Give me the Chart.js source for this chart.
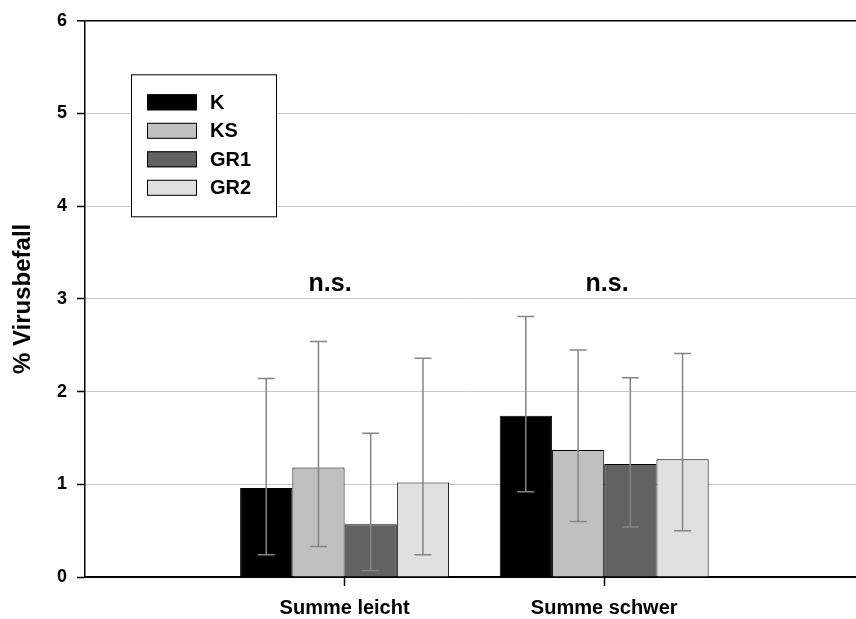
<!DOCTYPE html>
<html>
<head>
<meta charset="utf-8">
<script src="https://cdn.jsdelivr.net/npm/chart.js@4/dist/chart.umd.min.js"></script>
<style>
  body { margin: 0; background: #fff; }
  #wrap { width: 856px; height: 619px; position: relative; }
</style>
</head>
<body>
<div id="wrap"><canvas id="chart"></canvas></div>
<script>
// category positions on the x axis and their labels
const catPos = [1, 2];
const catLabels = ["Summe leicht", "Summe schwer"];

const seriesNames = ["K", "KS", "GR1", "GR2"];
const seriesColors = ["#000000", "#c0c0c0", "#626262", "#e0e0e0"];

// mean % Virusbefall per series, [leicht, schwer]
const valK = [0.96, 1.74];
const valKS = [1.18, 1.37];
const valGR1 = [0.57, 1.22];
const valGR2 = [1.02, 1.27];

// error bar ends (lower / upper)
const lowK = [0.24, 0.92];
const highK = [2.14, 2.81];
const lowKS = [0.33, 0.60];
const highKS = [2.54, 2.45];
const lowGR1 = [0.07, 0.54];
const highGR1 = [1.55, 2.15];
const lowGR2 = [0.24, 0.50];
const highGR2 = [2.36, 2.41];

// "n.s." annotations
const nsX = [0.944, 2.011];
const nsY = [3.09, 3.09];

const yTicks = [0, 1, 2, 3, 4, 5, 6];

const values = [valK, valKS, valGR1, valGR2];
const lows = [lowK, lowKS, lowGR1, lowGR2];
const highs = [highK, highKS, highGR1, highGR2];

const FONT = "'Liberation Sans', Arial, Helvetica, sans-serif";

const datasets = seriesNames.map((name, i) => ({
  label: name,
  data: catPos.map((x, j) => ({ x: x, y: values[i][j] })),
  backgroundColor: seriesColors[i],
  borderColor: "#000",
  borderWidth: 1,
  borderSkipped: "start",
}));

// error bars drawn over the bars
const errorBars = {
  id: "errorBars",
  afterDatasetsDraw(chart) {
    const { ctx } = chart;
    const yScale = chart.scales.y;
    ctx.save();
    ctx.strokeStyle = "#858585";
    ctx.lineWidth = 1.5;
    chart.data.datasets.forEach((ds, i) => {
      const meta = chart.getDatasetMeta(i);
      meta.data.forEach((bar, j) => {
        const x = bar.x;
        const y1 = yScale.getPixelForValue(lows[i][j]);
        const y2 = yScale.getPixelForValue(highs[i][j]);
        ctx.beginPath();
        ctx.moveTo(x, y1);
        ctx.lineTo(x, y2);
        ctx.moveTo(x - 8.5, y1);
        ctx.lineTo(x + 8.5, y1);
        ctx.moveTo(x - 8.5, y2);
        ctx.lineTo(x + 8.5, y2);
        ctx.stroke();
      });
    });
    ctx.restore();
  },
};

// significance labels + legend box inside the plot
const extras = {
  id: "extras",
  afterDraw(chart) {
    const { ctx, chartArea } = chart;
    const xs = chart.scales.x;
    const ys = chart.scales.y;
    ctx.save();
    ctx.fillStyle = "#000";
    ctx.font = "bold 25px " + FONT;
    ctx.textAlign = "center";
    ctx.textBaseline = "alphabetic";
    nsX.forEach((v, i) => {
      ctx.fillText("n.s.", xs.getPixelForValue(v), ys.getPixelForValue(nsY[i]));
    });

    // legend
    const bx = chartArea.left + 46;
    const by = chartArea.top + 53.5;
    ctx.fillStyle = "#fff";
    ctx.fillRect(bx, by, 145, 142);
    ctx.strokeStyle = "#000";
    ctx.lineWidth = 1;
    ctx.strokeRect(bx + 0.5, by + 0.5, 145, 142);
    ctx.font = "bold 20px " + FONT;
    ctx.textAlign = "left";
    ctx.textBaseline = "middle";
    chart.data.datasets.forEach((ds, i) => {
      const ry = by + 20 + i * 28.5;
      ctx.fillStyle = ds.backgroundColor;
      ctx.fillRect(bx + 16, ry, 50, 16);
      ctx.strokeRect(bx + 16.5, ry + 0.5, 49, 15);
      ctx.fillStyle = "#000";
      ctx.fillText(ds.label, bx + 79, ry + 9);
    });
    ctx.restore();
  },
};

new Chart(document.getElementById("chart"), {
  type: "bar",
  data: { datasets: datasets },
  options: {
    responsive: true,
    maintainAspectRatio: false,
    animation: false,
    layout: { padding: { top: 16, left: 0, right: 0, bottom: 0 } },
    datasets: {
      bar: { categoryPercentage: 0.805, barPercentage: 1.0 },
    },
    plugins: {
      legend: { display: false },
      tooltip: { enabled: false },
    },
    scales: {
      x: {
        type: "linear",
        min: 0,
        max: 2.97,
        offset: false,
        afterBuildTicks: (scale) => {
          scale.ticks = catPos.map((v) => ({ value: v }));
        },
        afterFit: (scale) => {
          scale.height = 42;
        },
        grid: {
          display: true,
          offset: false,
          drawOnChartArea: false,
          drawTicks: true,
          tickLength: 9,
          tickColor: "#000",
          tickWidth: 1.5,
        },
        border: { display: true, color: "#000", width: 2 },
        ticks: {
          autoSkip: false,
          maxRotation: 0,
          padding: 10,
          color: "#000",
          font: { family: FONT, size: 20, weight: "bold" },
          callback: (v) => {
            const k = catPos.indexOf(v);
            return k >= 0 ? catLabels[k] : "";
          },
        },
      },
      y: {
        min: 0,
        max: 6,
        afterBuildTicks: (scale) => {
          scale.ticks = yTicks.map((v) => ({ value: v }));
        },
        afterFit: (scale) => {
          scale.width = 85;
        },
        grid: {
          color: (c) => (c.tick && c.tick.value === 6 ? "#000" : "#c8c8c8"),
          lineWidth: (c) => (c.tick && c.tick.value === 6 ? 1.5 : 1),
          tickLength: 8,
          tickColor: "#000",
          tickWidth: 1.5,
        },
        border: { display: true, color: "#000", width: 1.5 },
        ticks: {
          padding: 10,
          color: "#000",
          font: { family: FONT, size: 18, weight: "bold" },
        },
        title: {
          display: true,
          text: "% Virusbefall",
          color: "#000",
          padding: { top: 9, bottom: 0 },
          font: { family: FONT, size: 24, weight: "bold" },
        },
      },
    },
  },
  plugins: [errorBars, extras],
});
</script>
</body>
</html>
